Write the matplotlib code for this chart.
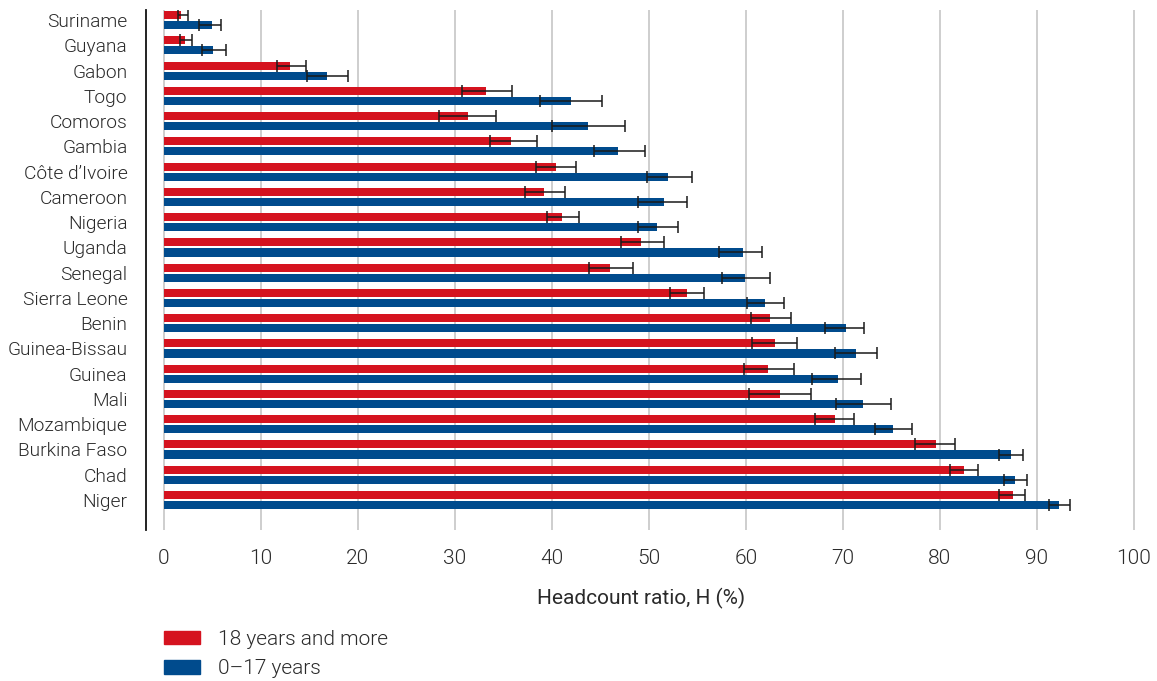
import matplotlib
matplotlib.use("Agg")
import numpy as np
import matplotlib.pyplot as plt
from matplotlib.patches import Patch

plt.rcParams['font.family'] = ['Roboto', 'DejaVu Sans']
plt.rcParams['font.weight'] = 300

countries = ["Suriname", "Guyana", "Gabon", "Togo", "Comoros", "Gambia",
             "Côte d\u2019Ivoire", "Cameroon", "Nigeria", "Uganda", "Senegal",
             "Sierra Leone", "Benin", "Guinea-Bissau", "Guinea", "Mali",
             "Mozambique", "Burkina Faso", "Chad", "Niger"]

# headcount ratio, adults (18+)
adult_h = [1.8, 2.2, 13.0, 33.2, 31.3, 35.8, 40.4, 39.2, 41.0, 49.2,
           46.0, 53.9, 62.5, 63.0, 62.3, 63.5, 69.2, 79.6, 82.5, 87.5]
adult_lo = [1.4, 1.7, 11.6, 30.7, 28.4, 33.6, 38.4, 37.2, 39.5, 47.1,
            43.8, 52.2, 60.5, 60.6, 59.8, 60.3, 67.1, 77.4, 81.0, 86.1]
adult_hi = [2.5, 2.9, 14.6, 35.9, 34.2, 38.5, 42.5, 41.3, 42.8, 51.5,
            48.3, 55.7, 64.6, 65.3, 64.9, 66.7, 71.1, 81.5, 83.9, 88.8]

# headcount ratio, children (0-17)
child_h = [4.9, 5.1, 16.8, 42.0, 43.7, 46.8, 52.0, 51.5, 50.8, 59.7,
           59.9, 62.0, 70.3, 71.3, 69.5, 72.1, 75.2, 87.3, 87.7, 92.3]
child_lo = [3.6, 3.9, 14.7, 38.8, 40.0, 44.3, 49.8, 48.9, 48.9, 57.2,
            57.5, 60.1, 68.1, 69.2, 66.8, 69.3, 73.3, 86.1, 86.6, 91.2]
child_hi = [5.9, 6.4, 19.0, 45.2, 47.5, 49.6, 54.4, 53.9, 53.0, 61.6,
            62.5, 63.9, 72.2, 73.5, 71.9, 74.9, 77.1, 88.6, 89.0, 93.4]

xticks = list(range(0, 101, 10))

RED = '#D5131F'
BLUE = '#004B8D'
TXT = '#2a2a2a'
FS = 15

adult_h = np.array(adult_h)
child_h = np.array(child_h)
adult_err = [adult_h - np.array(adult_lo), np.array(adult_hi) - adult_h]
child_err = [child_h - np.array(child_lo), np.array(child_hi) - child_h]

y = np.arange(len(countries))
bh = 0.32
off = 0.2

fig = plt.figure(figsize=(11.57, 6.81), dpi=100)
ax = fig.add_axes([0.1258, 0.2217, 0.8560, 0.7636])

ax.barh(y - off, adult_h, height=bh, color=RED, zorder=2)
ax.barh(y + off, child_h, height=bh, color=BLUE, zorder=2)
ebkw = dict(fmt='none', ecolor='#1a1a1a', elinewidth=1.1, capsize=4,
            capthick=1.1, zorder=3)
ax.errorbar(adult_h, y - off, xerr=adult_err, **ebkw)
ax.errorbar(child_h, y + off, xerr=child_err, **ebkw)

ax.set_xlim(-1.9, 100.2)
ax.set_ylim(20.19, -0.40)
ax.set_xticks(xticks)
ax.set_yticks(y)
ax.set_yticklabels(countries)
ax.tick_params(axis='both', length=0, colors=TXT)
ax.tick_params(axis='x', pad=14, labelsize=FS)
ax.tick_params(axis='y', pad=13, labelsize=13.8)

ax.grid(axis='x', color='#c6c6c6', linewidth=1.2, zorder=0)
ax.set_axisbelow(True)
for s in ['top', 'right', 'bottom']:
    ax.spines[s].set_visible(False)
ax.spines['left'].set_color('#111111')
ax.spines['left'].set_linewidth(1.3)

ax.set_xlabel("Headcount ratio, H (%)", fontsize=FS, color=TXT, labelpad=14)

handles = [Patch(color=RED, label="18 years and more"),
           Patch(color=BLUE, label="0\u201317 years")]
fig.legend(handles=handles, loc='upper left', bbox_to_anchor=(0.1417, 0.075),
           frameon=False, fontsize=FS, handlelength=1.73, handleheight=0.62,
           handletextpad=0.86, labelspacing=0.5, borderpad=0, borderaxespad=0,
           labelcolor=TXT)

fig.savefig("out.png", dpi=100)
